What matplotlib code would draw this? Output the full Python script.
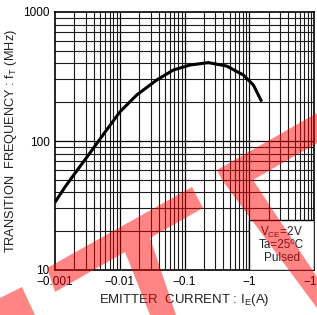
import matplotlib
matplotlib.use("Agg")
import matplotlib.pyplot as plt
from matplotlib.patches import Polygon, Rectangle
import numpy as np

plt.rcParams['font.family'] = ['Liberation Sans', 'DejaVu Sans']
plt.rcParams['mathtext.fontset'] = 'custom'
plt.rcParams['mathtext.rm'] = 'Liberation Sans'
plt.rcParams['mathtext.it'] = 'Liberation Sans'
plt.rcParams['mathtext.bf'] = 'Liberation Sans'

# Data (|emitter current| in A, transition frequency in MHz)
emitter_current = [0.001, 0.00144, 0.00232, 0.00373, 0.00598, 0.0101, 0.01828,
                   0.0372, 0.0671, 0.1216, 0.233, 0.449, 0.809, 1.155, 1.556]
transition_freq = [33.5, 44.3, 61.5, 85, 118, 168.6, 227.4,
                   297, 355, 388, 405, 381, 325, 272, 202]

x_ticks = [0.001, 0.01, 0.1, 1, 10]
x_tick_labels = ['\u22120.001', '\u22120.01', '\u22120.1', '\u22121', '\u221210']
y_ticks = [10, 100, 1000]
y_tick_labels = ['10', '100', '1000']
conditions = ['V$_\\mathregular{CE}$=2V', 'Ta=25\u00baC', 'Pulsed']

W, H = 317, 315
fig = plt.figure(figsize=(W / 100, H / 100), dpi=100)
ax = fig.add_axes([55 / W, 1 - 270 / H, (314 - 55) / W, (270 - 12) / H])
ax.set_xscale('log')
ax.set_yscale('log')
ax.set_xlim(0.001, 10)
ax.set_ylim(10, 1000)

# grid lines at every 1..9 of each decade
for dec in [0.001, 0.01, 0.1, 1]:
    for m in range(2, 10):
        ax.axvline(dec * m, color='#1a1a1a', lw=0.8, zorder=1)
for dec in [10, 100]:
    for m in range(2, 10):
        ax.axhline(dec * m, color='#1a1a1a', lw=0.8, zorder=1)
for v in [0.01, 0.1, 1]:
    ax.axvline(v, color='black', lw=0.9, zorder=1)
ax.axhline(100, color='black', lw=0.9, zorder=1)

ax.plot(emitter_current, transition_freq, color='black', lw=2.2,
        solid_capstyle='butt', solid_joinstyle='round', zorder=3)

ax.set_xticks(x_ticks)
ax.set_xticklabels(x_tick_labels)
ax.set_yticks(y_ticks)
ax.set_yticklabels(y_tick_labels)
ax.minorticks_off()
ax.tick_params(length=0, labelsize=8.5, pad=4)
for s in ax.spines.values():
    s.set_linewidth(1.2)
    s.set_color('black')

ax.set_xlabel('EMITTER  CURRENT : I$_\\mathregular{E}$(A)', fontsize=9.5,
              color='#222222', labelpad=3)
ax.set_ylabel('TRANSITION  FREQUENCY : f$_\\mathregular{T}$ (MHz)', fontsize=9.2,
              color='#222222', labelpad=3)

# conditions box
ax.add_patch(Rectangle((0.749, 0.0), 0.251, 0.194, transform=ax.transAxes,
                       facecolor='white', edgecolor='black', lw=1.0, zorder=4))
for i, t in enumerate(conditions):
    ax.text(0.875, 0.145 - i * 0.05, t, transform=ax.transAxes, ha='center',
            va='center', fontsize=8.5, color='#222222', zorder=5)

# red watermark shapes
def px(points):
    return [(x / W, 1 - y / H) for x, y in points]

shapes = [
    [(47, 268), (192, 187), (203, 208), (150, 238), (176, 315), (150, 315),
     (125, 252), (55, 292)],
    [(0, 298), (22, 287), (35, 315), (0, 315)],
    [(217, 170), (317, 113), (317, 143), (253, 180), (317, 277), (317, 308),
     (222, 180)],
]
for s in shapes:
    fig.patches.append(Polygon(px(s), closed=True, transform=fig.transFigure,
                               facecolor=(1, 0, 0), alpha=0.48, lw=0,
                               zorder=10))

fig.savefig('out.png', dpi=100)
